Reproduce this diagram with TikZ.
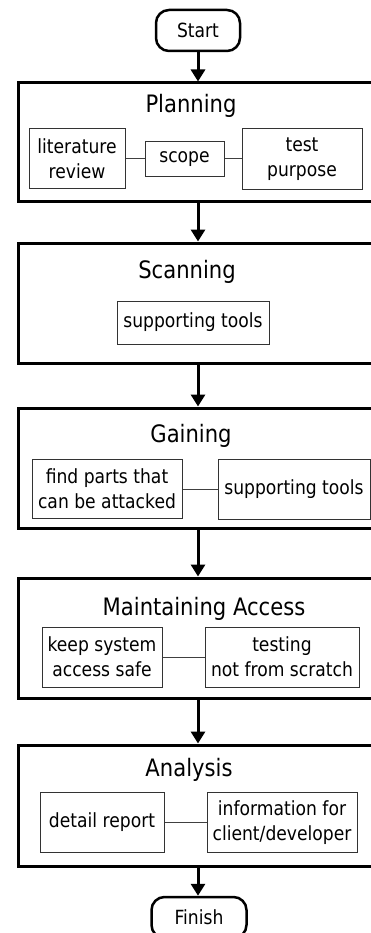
\documentclass[tikz,border=0pt]{standalone}
\usepackage{fontspec}
\setmainfont{DejaVu Sans}[FakeStretch=0.88]
\usetikzlibrary{arrows.meta}
\tikzset{
	phasebox/.style={draw,line width=3pt,minimum width=360pt,minimum height=119pt},
	subbox/.style={draw=black!80,line width=1pt,align=center,inner sep=2pt,font=\fontsize{19.5}{25}\selectfont},
	terminal/.style={draw,line width=2.5pt,rounded corners=13pt,minimum width=84pt,minimum height=41pt,font=\fontsize{19.5}{23}\selectfont},
	phasetitle/.style={anchor=base,font=\fontsize{24}{28}\selectfont},
	flowarrow/.style={line width=3pt,-{Triangle[length=12pt,width=14pt]}},
	joint/.style={black!75,line width=1pt}
}
\begin{document}
\begin{tikzpicture}[x=1pt,y=-1pt]
		\useasboundingbox (0,0) rectangle (371,933);
		\clip (0,0) rectangle (371,933);
		% start / finish
		\node[terminal] (start) at (198,30.5) {Start};
		\node[terminal,minimum width=95pt] (finish) at (199,917.5) {Finish};
		% phases
		\node[phasebox] (plan) at (198,142.5) {};
		\node[phasebox,minimum height=120pt] (scan) at (198,303) {};
		\node[phasebox,minimum height=120pt] (gain) at (198,468) {};
		\node[phasebox,minimum height=120pt] (maint) at (198,638) {};
		\node[phasebox,minimum height=121pt] (anal) at (198,805.5) {};
		\node[phasetitle] (plantitle) at (191,113) {Planning};
		\node[phasetitle] (scantitle) at (187,278) {Scanning};
		\node[phasetitle] (gaintitle) at (191,442) {Gaining};
		\node[phasetitle] (mainttitle) at (204,615) {Maintaining Access};
		\node[phasetitle] (analtitle) at (189,776) {Analysis};
		% planning
		\node[subbox,minimum width=96pt,minimum height=60pt] (litrev) at (77,159) {literature\\review};
		\node[subbox,minimum width=79pt,minimum height=35pt] (scope) at (184.5,159) {scope};
		\node[subbox,minimum width=120pt,minimum height=61pt] (purpose) at (302,159) {test\\purpose};
		\draw[joint] (litrev) -- (scope) -- (purpose);
		% scanning
		\node[subbox,minimum width=152pt,minimum height=43pt] (scantools) at (193,322.5) {supporting tools};
		% gaining
		\node[subbox,minimum width=150pt,minimum height=59pt] (findparts) at (107,489) {find parts that\\can be attacked};
		\node[subbox,minimum width=152pt,minimum height=60pt] (gaintools) at (294,489) {supporting tools};
		\draw[joint] (findparts) -- (gaintools);
		% maintaining access
		\node[subbox,minimum width=120pt,minimum height=60pt] (keepsafe) at (102,657) {keep system\\access safe};
		\node[subbox,minimum width=154pt,minimum height=60pt] (notscratch) at (282,657) {testing\\not from scratch};
		\draw[joint] (keepsafe) -- (notscratch);
		% analysis
		\node[subbox,minimum width=124pt,minimum height=60pt] (report) at (102,822.5) {detail report};
		\node[subbox,minimum width=150pt,minimum height=60pt] (info) at (282,822.5) {information for\\client/developer};
		\draw[joint] (report) -- (info);
		% flow
		\draw[flowarrow] (start) -- (plan);
		\draw[flowarrow] (plan) -- (scan);
		\draw[flowarrow] (scan) -- (gain);
		\draw[flowarrow] (gain) -- (maint);
		\draw[flowarrow] (maint) -- (anal);
		\draw[flowarrow] (anal.south) -- (anal.south |- finish.north);
	\end{tikzpicture}
\end{document}
